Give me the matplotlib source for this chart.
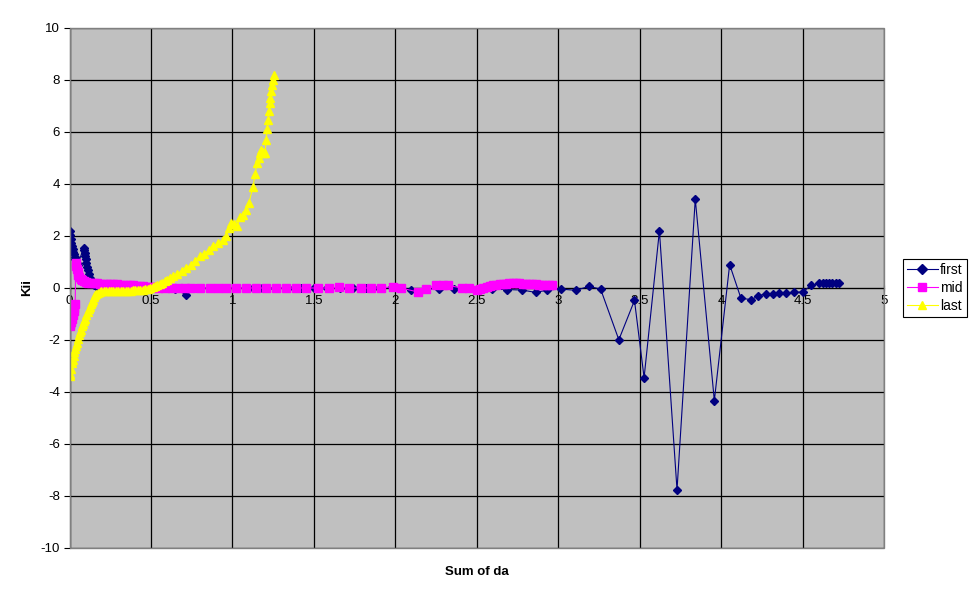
import matplotlib
matplotlib.use("Agg")
import matplotlib.pyplot as plt
from matplotlib.patches import Rectangle

plt.rcParams['font.family'] = ['Liberation Sans', 'DejaVu Sans']
plt.rcParams['axes.unicode_minus'] = False

# series "first" (navy diamonds)
first_x = [0.000, 0.004, 0.008, 0.012, 0.016, 0.020, 0.024, 0.028, 0.032, 0.036, 0.040, 0.045, 0.050,
           0.088, 0.091, 0.094, 0.097, 0.100, 0.104, 0.108, 0.112, 0.117, 0.125, 0.135, 0.150, 0.170,
           0.20, 0.24, 0.29, 0.35, 0.42, 0.50, 0.58, 0.65, 0.713, 0.78, 0.86, 0.94, 1.02, 1.10, 1.18,
           1.26, 1.34, 1.42, 1.50, 1.58, 1.66, 1.74, 1.82, 1.90, 1.98, 2.03, 2.095, 2.18, 2.27, 2.36,
           2.45, 2.52, 2.595, 2.687, 2.779, 2.861, 2.932,
           3.014, 3.106, 3.187, 3.259, 3.371, 3.467, 3.526, 3.620, 3.728, 3.840, 3.957, 4.051, 4.120,
           4.184, 4.228, 4.273, 4.316, 4.355, 4.394, 4.445, 4.500, 4.551, 4.602, 4.622, 4.642, 4.662,
           4.682, 4.702, 4.722]
first_y = [2.20, 2.05, 1.90, 1.75, 1.62, 1.50, 1.40, 1.30, 1.20, 1.12, 1.04, 0.96, 0.90,
           1.55, 1.45, 1.35, 1.22, 1.10, 0.95, 0.80, 0.68, 0.55, 0.40, 0.25, 0.12, 0.05,
           0.03, 0.02, 0.01, 0.0, 0.0, 0.0, 0.0, -0.02, -0.26, 0.0, 0.0, 0.0, 0.0, 0.0, 0.0,
           0.0, 0.0, 0.0, 0.0, 0.0, 0.0, 0.0, 0.0, 0.0, 0.02, 0.0, -0.06, -0.02, -0.05, -0.02,
           0.0, -0.02, -0.05, -0.06, -0.08, -0.17, -0.08,
           -0.04, -0.09, 0.06, -0.04, -1.99, -0.48, -3.45, 2.20, -7.76, 3.42, -4.33, 0.90, -0.39,
           -0.45, -0.30, -0.22, -0.22, -0.20, -0.20, -0.17, -0.15, 0.10, 0.18, 0.18, 0.18, 0.18,
           0.18, 0.18, 0.18]

# series "mid" (magenta squares)
mid_x = [0.000, 0.005, 0.010, 0.015, 0.020, 0.025, 0.030, 0.035,
         0.038, 0.042, 0.046, 0.050, 0.055, 0.060, 0.068, 0.077, 0.088, 0.100, 0.115, 0.130, 0.150,
         0.17, 0.19, 0.21, 0.23, 0.25, 0.27, 0.29, 0.31, 0.33, 0.35, 0.37, 0.39, 0.41, 0.43, 0.45,
         0.47, 0.49, 0.51, 0.53,
         0.544, 0.585, 0.626, 0.666, 0.707, 0.748, 0.800, 0.860, 0.911, 0.963, 1.024, 1.085, 1.146,
         1.208, 1.269, 1.330, 1.391, 1.452, 1.524, 1.595, 1.652, 1.718, 1.789, 1.851, 1.912, 1.983,
         2.034, 2.136, 2.187, 2.249, 2.289, 2.320, 2.411, 2.452,
         2.50, 2.52, 2.54, 2.56, 2.58, 2.60, 2.62, 2.64, 2.66, 2.68, 2.70, 2.72, 2.74, 2.76, 2.78,
         2.80, 2.82, 2.84, 2.86, 2.88, 2.90, 2.92, 2.94, 2.96]
mid_y = [-1.45, -1.40, -1.30, -1.20, -1.05, -0.90, -0.75, -0.62,
         0.95, 0.85, 0.75, 0.62, 0.50, 0.42, 0.35, 0.30, 0.26, 0.23, 0.21, 0.20, 0.19,
         0.18, 0.17, 0.16, 0.16, 0.15, 0.15, 0.14, 0.13, 0.12, 0.12, 0.11, 0.10, 0.09, 0.08, 0.07,
         0.05, 0.04, 0.03, 0.02,
         0.01, 0.0, 0.0, 0.0, 0.0, 0.0, 0.0, 0.0, 0.0, 0.0, 0.0, 0.0, 0.0,
         0.0, 0.0, 0.0, 0.0, 0.0, 0.0, 0.0, 0.02, 0.0, 0.0, 0.0, 0.0, 0.05,
         0.0, -0.15, -0.05, 0.12, 0.12, 0.10, 0.0, 0.0,
         -0.08, -0.05, 0.0, 0.04, 0.07, 0.10, 0.12, 0.14, 0.16, 0.17, 0.18, 0.19, 0.19, 0.18, 0.17,
         0.16, 0.15, 0.14, 0.14, 0.13, 0.13, 0.13, 0.13, 0.13]

# series "last" (yellow triangles)
last_x = [0.000, 0.005, 0.010, 0.015, 0.020, 0.025, 0.030, 0.035, 0.040, 0.046, 0.052, 0.058,
          0.064, 0.070, 0.077, 0.084, 0.090, 0.097, 0.104, 0.111, 0.118, 0.125, 0.132, 0.138,
          0.145, 0.152, 0.158, 0.165, 0.175, 0.185, 0.195, 0.210, 0.225, 0.240, 0.255, 0.270,
          0.285, 0.300, 0.315, 0.330, 0.345, 0.360, 0.375, 0.390, 0.405, 0.420, 0.435, 0.450,
          0.465, 0.480, 0.495, 0.510, 0.525, 0.540, 0.555, 0.570, 0.585, 0.600, 0.615, 0.636,
          0.660, 0.690, 0.717, 0.745, 0.770, 0.800, 0.825, 0.855, 0.881, 0.910, 0.940, 0.963,
          0.980, 0.993, 1.010, 1.030, 1.044, 1.064, 1.081, 1.101, 1.126, 1.140, 1.150, 1.160,
          1.167, 1.177, 1.185, 1.193, 1.200, 1.207, 1.212, 1.218, 1.223, 1.228, 1.233, 1.238,
          1.243, 1.248, 1.252]
last_y = [-3.40, -3.30, -3.10, -2.90, -2.75, -2.60, -2.45, -2.35, -2.22, -2.10, -1.95, -1.80,
          -1.70, -1.60, -1.48, -1.38, -1.28, -1.20, -1.05, -0.92, -0.82, -0.72, -0.63, -0.55,
          -0.45, -0.35, -0.27, -0.22, -0.18, -0.15, -0.13, -0.12, -0.11, -0.10, -0.10, -0.10,
          -0.10, -0.10, -0.10, -0.10, -0.10, -0.10, -0.10, -0.09, -0.09, -0.08, -0.07, -0.06,
          -0.04, -0.02, 0.0, 0.03, 0.07, 0.11, 0.15, 0.20, 0.26, 0.32, 0.38, 0.45,
          0.55, 0.66, 0.77, 0.90, 1.03, 1.22, 1.32, 1.45, 1.60, 1.72, 1.85, 2.00,
          2.30, 2.50, 2.45, 2.40, 2.75, 2.82, 3.00, 3.27, 3.90, 4.40, 4.80, 5.00,
          5.20, 5.30, 5.25, 5.20, 5.20, 5.70, 6.10, 6.47, 6.80, 7.10, 7.30, 7.56,
          7.80, 8.00, 8.20]

x_ticks = [0, 0.5, 1, 1.5, 2, 2.5, 3, 3.5, 4, 4.5, 5]
x_tick_labels = ['0', '0.5', '1', '1.5', '2', '2.5', '3', '3.5', '4', '4.5', '5']
y_ticks = [-10, -8, -6, -4, -2, 0, 2, 4, 6, 8, 10]

fig = plt.figure(figsize=(9.77, 6.0), dpi=100)
ax = fig.add_axes([69.5 / 977, 1 - 548 / 600, (884.3 - 69.5) / 977, 520 / 600])
ax.set_facecolor('#C0C0C0')

ax.plot(first_x, first_y, color='#000080', lw=0.8, marker='D', ms=4.2, mec='#000080', zorder=3, label='first')
ax.plot(mid_x, mid_y, color='#FF00FF', lw=0.8, marker='s', ms=5.4, mec='#FF00FF', zorder=4, label='mid')
ax.plot(last_x, last_y, color='#FFFF00', lw=0.8, marker='^', ms=5.8, mec='#FFFF00', zorder=5, label='last')

ax.set_xlim(0, 5)
ax.set_ylim(-10, 10)
ax.set_xticks(x_ticks)
ax.set_xticklabels(x_tick_labels)
ax.set_yticks(y_ticks)
ax.grid(True, color='black', lw=0.9, zorder=1)
ax.set_axisbelow(True)

# x axis crosses at y = 0 like the spreadsheet chart
ax.spines['bottom'].set_position(('data', 0))
ax.spines['bottom'].set_color('black')
ax.spines['left'].set_color('black')
for s in ['top', 'right']:
    ax.spines[s].set_visible(False)
ax.add_patch(Rectangle((0, 0), 1, 1, transform=ax.transAxes, fill=False,
                       edgecolor='#808080', lw=1, zorder=6, clip_on=False))

ax.tick_params(axis='x', direction='inout', length=4, pad=3, labelsize=9.5, color='black')
ax.tick_params(axis='y', direction='out', length=4, pad=3, labelsize=9.5, color='black')

fig.text(27 / 977, 1 - 288 / 600, 'Kii', rotation=90, fontsize=9.5, fontweight='bold',
         ha='center', va='center')
fig.text(477 / 977, 1 - 572 / 600, 'Sum of da', fontsize=9.5, fontweight='bold',
         ha='center', va='center')

leg = fig.legend(loc='center left', bbox_to_anchor=(903 / 977, 1 - 288 / 600), fontsize=10,
                 frameon=True, fancybox=False, edgecolor='black', framealpha=1,
                 handlelength=2.2, handletextpad=0.15, borderpad=0.3, labelspacing=0.3,
                 borderaxespad=0, markerscale=1.1)
leg.get_frame().set_linewidth(0.8)

fig.savefig('out.png', dpi=100, facecolor='white')
